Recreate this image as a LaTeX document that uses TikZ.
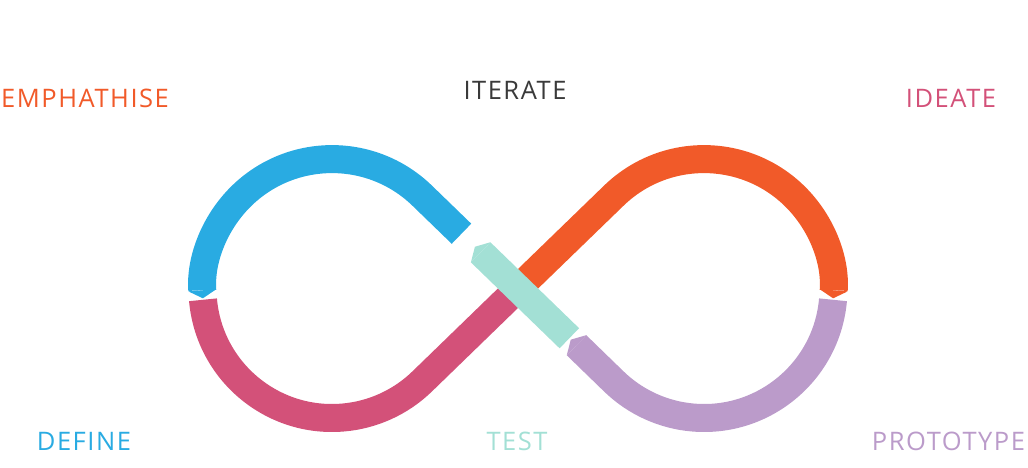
\documentclass[tikz,border=0pt]{standalone}
\usepackage{fontspec}
\setmainfont{Open Sans}[LetterSpace=6]
\usepackage{xcolor}
\usetikzlibrary{calc}
\usetikzlibrary{arrows.meta}

\definecolor{dtblue}{HTML}{29ABE2}
\definecolor{dtpink}{HTML}{D35179}
\definecolor{dtorange}{HTML}{F15A29}
\definecolor{dtpurple}{HTML}{BB9BCA}
\definecolor{dtteal}{HTML}{A3E0D5}
\definecolor{dtgray}{HTML}{3A3A3A}

\begin{document}
\begin{tikzpicture}[x=1pt, y=1pt]
	\tikzstyle{band}=[line width=28pt]
	\tikzstyle{tipped}=[band, -{Triangle[width=28pt, length=8pt, line width=0pt]}]
	\tikzstyle{stage}=[anchor=base, inner sep=0pt, font=\fontsize{25.5}{30}\selectfont]

	\useasboundingbox (-518,-179.5) rectangle (510,288.5);

	\def\rad{129.5}
	\coordinate (X) at (0,0);
	\coordinate (Lc) at (-186,0);
	\coordinate (Rc) at (186,0);

	% the loop, one band per stage
	\draw[tipped, dtblue] (135.9:78.7) -- (135.9:133.5) arc[start angle=45.9, end angle=184.3, radius=\rad];
	\draw[band, dtpink] ($(Lc)+(185:\rad)$) arc[start angle=185, end angle=314.1, radius=\rad] -- (X);
	\draw[tipped, dtorange] (X) -- (44.1:133.5) arc[start angle=134.1, end angle=-4.3, radius=\rad];
	\draw[tipped, dtpurple] ($(Rc)+(-5:\rad)$) arc[start angle=-5, end angle=-134.1, radius=\rad] -- (-44.1:73.5);
	\draw[tipped, dtteal] (-44.1:71.5) -- (135.9:60);

	\node[stage, dtorange] (empathise) at (-433,180.5) {EMPHATHISE};
	\node[stage, dtgray] (iterate) at (-3,188.5) {ITERATE};
	\node[stage, dtpink] (ideate) at (433,180.5) {IDEATE};
	\node[stage, dtblue] (define) at (-434,-162.5) {DEFINE};
	\node[stage, dtteal] (test) at (-1,-162.5) {TEST};
	\node[stage, dtpurple] (prototype) at (430.5,-162.5) {PROTOTYPE};
\end{tikzpicture}
\end{document}
